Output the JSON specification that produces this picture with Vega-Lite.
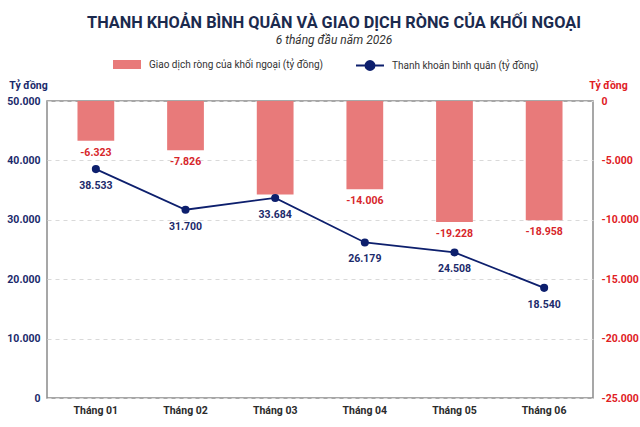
{
  "$schema": "https://vega.github.io/schema/vega-lite/v6.json",
  "width": 546,
  "height": 297,
  "autosize": "none",
  "padding": {"left": 47, "top": 101, "right": 47, "bottom": 29},
  "title": {
    "text": "THANH KHOẢN BÌNH QUÂN VÀ GIAO DỊCH RÒNG CỦA KHỐI NGOẠI",
    "subtitle": "6 tháng đầu năm 2026",
    "anchor": "middle",
    "dx": 14,
    "offset": 2,
    "font": "Roboto",
    "fontSize": 16.3,
    "fontWeight": "bold",
    "color": "#1b2a4e",
    "subtitleFont": "Roboto",
    "subtitleFontSize": 12,
    "subtitleFontStyle": "italic",
    "subtitleColor": "#333333",
    "subtitlePadding": 4
  },
  "config": {
    "font": "Roboto",
    "locale": {
      "number": {"decimal": ",", "thousands": ".", "grouping": [3], "currency": ["", ""], "minus": "-"}
    },
    "view": {"stroke": "#8a8a8a", "strokeWidth": 1.5},
    "axis": {"labelFontSize": 10.5, "labelFontWeight": "bold"}
  },
  "data": {
    "values": [
      {"month": "Tháng 01", "liquidity": 38533, "net": -6323},
      {"month": "Tháng 02", "liquidity": 31700, "net": -7826},
      {"month": "Tháng 03", "liquidity": 33684, "net": -14850},
      {"month": "Tháng 04", "liquidity": 26179, "net": -14006},
      {"month": "Tháng 05", "liquidity": 24508, "net": -19228},
      {"month": "Tháng 06", "liquidity": 18540, "net": -18958}
    ]
  },
  "encoding": {
    "x": {
      "field": "month",
      "type": "ordinal",
      "scale": {"paddingInner": 0.59, "paddingOuter": 0.34},
      "axis": {
        "title": null,
        "labelAngle": 0,
        "ticks": false,
        "domain": false,
        "labelPadding": 7,
        "labelColor": "#2b2b2b",
        "labelFontSize": 10.5
      }
    }
  },
  "layer": [
    {
      "encoding": {
        "y": {
          "field": "net",
          "type": "quantitative",
          "scale": {"domain": [-47200, 0], "nice": false, "zero": true},
          "axis": null
        }
      },
      "layer": [
        {
          "mark": {"type": "bar", "opacity": 1},
          "encoding": {
            "fill": {
              "datum": "Giao dịch ròng của khối ngoại (tỷ đồng)",
              "scale": {"range": ["#e87a7a"]},
              "legend": {
                "title": null,
                "orient": "none",
                "legendX": 64,
                "legendY": -52.5,
                "padding": 0,
                "symbolType": "M-0.875,-0.28H0.875V0.28H-0.875Z",
                "symbolSize": 1024,
                "symbolStrokeWidth": 0,
                "symbolOpacity": 1,
                "labelOffset": 6,
                "labelLimit": 300,
                "labelFontSize": 10,
                "labelColor": "#333333"
              }
            }
          }
        },
        {
          "transform": [{"filter": "datum.month !== 'Tháng 03'"}],
          "mark": {"type": "text", "baseline": "top", "dy": 7, "color": "#d7262b", "fontSize": 10.5, "fontWeight": "bold"},
          "encoding": {
            "text": {"field": "net", "type": "quantitative", "format": ",d"}
          }
        }
      ]
    },
    {
      "encoding": {
        "y": {
          "field": "liquidity",
          "type": "quantitative",
          "scale": {"domain": [0, 50000], "nice": false},
          "axis": {
            "orient": "left",
            "values": [0, 10000, 20000, 30000, 40000, 50000],
            "format": ",d",
            "ticks": false,
            "domain": false,
            "labelPadding": 7,
            "labelColor": "#1b2a6b",
            "grid": true,
            "gridDash": [4, 4],
            "gridColor": "#d9d9d9",
            "title": "Tỷ đồng",
            "titleAngle": 0,
            "titleAlign": "center",
            "titleBaseline": "middle",
            "titleX": -19,
            "titleY": -16,
            "titleColor": "#1b2a6b",
            "titleFontSize": 10.5,
            "titleFontWeight": "bold"
          }
        }
      },
      "layer": [
        {
          "mark": {"type": "line", "strokeWidth": 1.8},
          "encoding": {
            "stroke": {
              "datum": "Thanh khoản bình quân (tỷ đồng)",
              "scale": {"range": ["#0d1f6d"]},
              "legend": {
                "title": null,
                "orient": "none",
                "legendX": 306,
                "legendY": -52.5,
                "padding": 0,
                "symbolType": "M-0.875,0H0.875M0.28,0A0.28,0.28,0,1,1,-0.28,0A0.28,0.28,0,1,1,0.28,0Z",
                "symbolSize": 1024,
                "symbolStrokeWidth": 2,
                "symbolFillColor": "#0d1f6d",
                "symbolOpacity": 1,
                "labelOffset": 5,
                "labelLimit": 300,
                "labelFontSize": 10,
                "labelColor": "#333333"
              }
            }
          }
        },
        {
          "mark": {"type": "point", "filled": true, "size": 65, "opacity": 1, "color": "#0d1f6d"},
          "encoding": {}
        },
        {
          "mark": {"type": "text", "baseline": "middle", "dy": 17, "color": "#1b2a6b", "fontSize": 10.5, "fontWeight": "bold"},
          "encoding": {
            "text": {"field": "liquidity", "type": "quantitative", "format": ",d"}
          }
        }
      ]
    },
    {
      "mark": {"type": "point", "opacity": 0},
      "encoding": {
        "y": {
          "field": "net",
          "type": "quantitative",
          "scale": {"domain": [-25000, 0], "nice": false},
          "axis": {
            "orient": "right",
            "values": [0, -5000, -10000, -15000, -20000, -25000],
            "format": ",d",
            "ticks": false,
            "domain": false,
            "grid": false,
            "labelPadding": 8,
            "labelColor": "#e0201f",
            "title": "Tỷ đồng",
            "titleAngle": 0,
            "titleAlign": "center",
            "titleBaseline": "middle",
            "titleX": 15,
            "titleY": -16,
            "titleColor": "#e0201f",
            "titleFontSize": 10.5,
            "titleFontWeight": "bold"
          }
        }
      }
    }
  ],
  "resolve": {"scale": {"y": "independent"}}
}
